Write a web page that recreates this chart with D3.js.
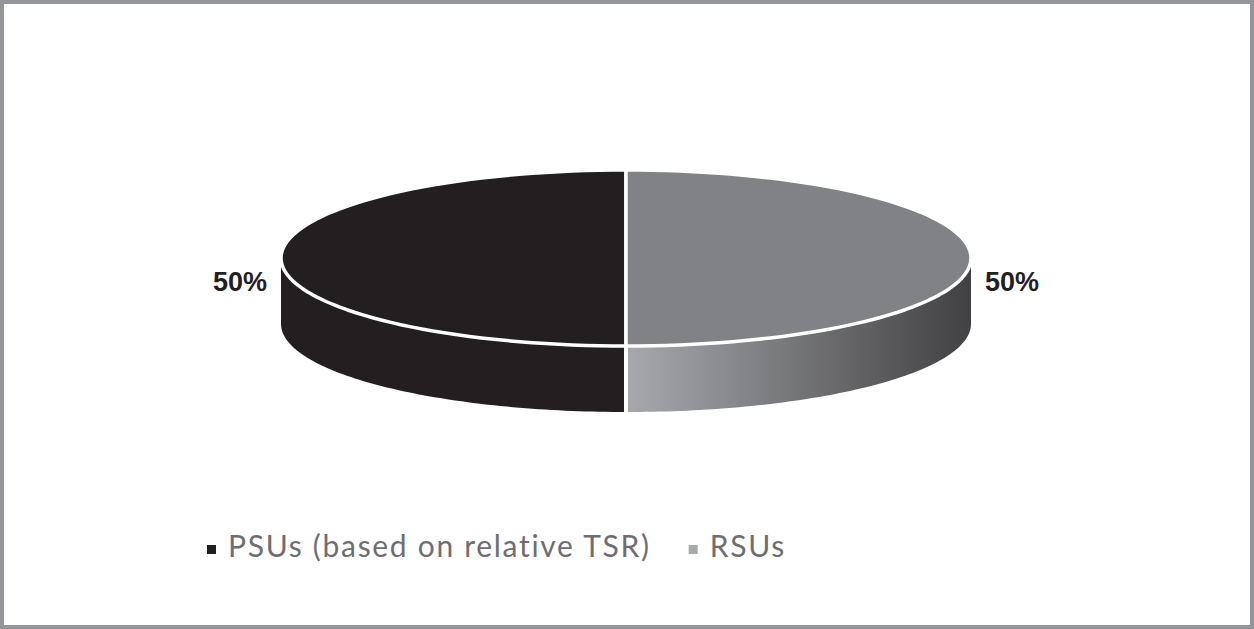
<!DOCTYPE html>
<head>
<meta charset="utf-8">
<title>PSUs vs RSUs</title>
<script src="https://d3js.org/d3.v7.min.js"></script>
<style>
body { margin: 0; background: #fff; }
svg { display: block; }
.label { font-family: "Liberation Sans", Arial, sans-serif; font-weight: bold; font-size: 27px; fill: #231f20; }
.legend text { font-family: Lato, "Open Sans", sans-serif; font-size: 30px; letter-spacing: 1.7px; fill: #6d6e71; }
</style>
</head>
<body>
<div id="chart"></div>
<script>

// data
var categories = ["PSUs (based on relative TSR)", "RSUs"];
var shares = [50, 50];
var labels = ["50%", "50%"];
var topColors = ["#231f20", "#808285"];
var legendColors = ["#231f20", "#a7a9ac"];

var width = 1254, height = 629;
var cx = 626, cy = 258, rx = 345, ry = 88, depth = 66;

var svg = d3.select("#chart").append("svg")
  .attr("width", width)
  .attr("height", height);

/* frame */
svg.append("rect")
  .attr("x", 2).attr("y", 2)
  .attr("width", width - 4).attr("height", height - 4)
  .attr("fill", "#fff")
  .attr("stroke", "#939598")
  .attr("stroke-width", 4);

var defs = svg.append("defs");
var grad = defs.append("linearGradient")
  .attr("id", "sideGrad")
  .attr("gradientUnits", "userSpaceOnUse")
  .attr("x1", cx).attr("x2", cx + rx)
  .attr("y1", 0).attr("y2", 0);
grad.append("stop").attr("offset", "0%").attr("stop-color", "#a7a9ac");
grad.append("stop").attr("offset", "100%").attr("stop-color", "#414042");

/* pie angles: first slice on the left half */
var pie = d3.pie().sort(null).startAngle(Math.PI).endAngle(3 * Math.PI);
var arcs = pie(shares);

function pt(a, dy) {
  return [cx + rx * Math.sin(a), cy - ry * Math.cos(a) + (dy || 0)];
}

function ring(a0, a1, dy) {
  var pts = [], n = 80;
  for (var i = 0; i <= n; i++) pts.push(pt(a0 + (a1 - a0) * i / n, dy));
  return pts;
}

var line = d3.line();

// visible (front) part of a slice's outer wall: angles where cos(a) < 0
function frontRange(d) {
  var a0 = d.startAngle, a1 = d.endAngle;
  var best = null;
  [Math.PI / 2, 5 * Math.PI / 2].forEach(function(s) {
    var lo = Math.max(a0, s), hi = Math.min(a1, s + Math.PI);
    if (hi > lo && (!best || hi - lo > best[1] - best[0])) best = [lo, hi];
  });
  return best;
}

var sides = svg.append("g").attr("class", "sides");
arcs.forEach(function(d, i) {
  var r = frontRange(d);
  if (!r) return;
  var top = ring(r[0], r[1], 0);
  var bot = ring(r[1], r[0], depth);
  sides.append("path")
    .attr("d", line(top.concat(bot)) + "Z")
    .attr("fill", i === 0 ? topColors[0] : "url(#sideGrad)");
});

// cut edge at the front centre
sides.append("line")
  .attr("x1", pt(Math.PI)[0]).attr("x2", pt(Math.PI)[0])
  .attr("y1", pt(Math.PI)[1]).attr("y2", pt(Math.PI, depth)[1] + 1)
  .attr("stroke", "#fff").attr("stroke-width", 4);

var tops = svg.append("g").attr("class", "tops");
arcs.forEach(function(d, i) {
  var pts = [[cx, cy]].concat(ring(d.startAngle, d.endAngle, 0));
  tops.append("path")
    .attr("d", line(pts) + "Z")
    .attr("fill", topColors[i])
    .attr("stroke", "#fff")
    .attr("stroke-width", 3.5)
    .attr("stroke-linejoin", "round");
});

/* labels */
arcs.forEach(function(d, i) {
  var mid = (d.startAngle + d.endAngle) / 2;
  var s = Math.sin(mid);
  svg.append("text")
    .attr("class", "label")
    .attr("x", cx + s * (rx + 14))
    .attr("y", cy + depth / 2)
    .attr("text-anchor", s < 0 ? "end" : "start")
    .text(labels[i]);
});

/* legend */
var legend = svg.append("g").attr("class", "legend");
var lx = 207;
categories.forEach(function(c, i) {
  var g = legend.append("g").attr("transform", "translate(" + lx + ",0)");
  g.append("rect")
    .attr("x", 0).attr("y", 545)
    .attr("width", 9).attr("height", 9)
    .attr("fill", legendColors[i]);
  var t = g.append("text")
    .attr("x", 21).attr("y", 557)
    .text(c);
  lx += 21 + t.node().getComputedTextLength() + 38;
});

</script>
</body>
</html>
